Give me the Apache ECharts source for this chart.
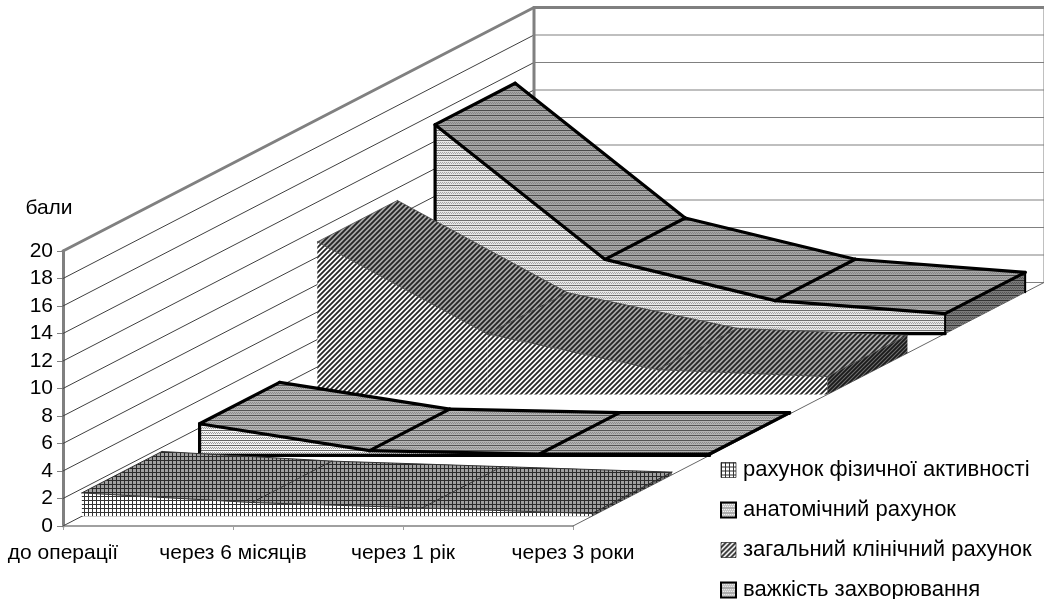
<!DOCTYPE html>
<html>
<head>
<meta charset="utf-8">
<title>бали</title>
<style>
    html, body { margin: 0; padding: 0; background: #fff; }
    #chart-box { width: 1044px; height: 599px; }
</style>
<script src="https://cdn.jsdelivr.net/npm/echarts@6/dist/echarts.min.js"></script>
</head>
<body>
<div id="chart-box"></div>
<script>
// values
const categories = ["до операції", "через 6 місяців", "через 1 рік", "через 3 роки"]
const seriesNames = ["рахунок фізичної активності", "анатомічний рахунок", "загальний клінічний рахунок", "важкість захворювання"]
const physicalValues = [1.7, 1.0, 0.6, 0.2]
const anatomicValues = [2.3, 0.35, 0.1, 0.1]
const clinicalValues = [11.1, 4.4, 1.8, 1.3]
const severityValues = [15.2, 5.4, 2.4, 1.45]
const wallTicks = [0, 2, 4, 6, 8, 10, 12, 14, 16, 18, 20]

// oblique 3d look: how far the back wall sits from the front of the floor
const DEPTH_X = 471
const DEPTH_Y = -243.5
const SLAB_START = [0.04, 0.29, 0.54, 0.79]
const SLAB_DEPTH = 0.17

function makeCanvas(w, h, bg) {
    let c = document.createElement("canvas")
    c.width = w
    c.height = h
    let ctx = c.getContext("2d")
    ctx.fillStyle = bg
    ctx.fillRect(0, 0, w, h)
    return [c, ctx]
}

function gridPattern(bg, fg) {
    let [c, ctx] = makeCanvas(4, 4, bg)
    ctx.fillStyle = fg
    ctx.fillRect(0, 0, 4, 1)
    ctx.fillRect(0, 0, 1, 4)
    return { image: c, repeat: "repeat" }
}

function linePattern(bg, dot, fg) {
    let [c, ctx] = makeCanvas(4, 5, bg)
    ctx.fillStyle = fg
    ctx.fillRect(0, 0, 4, 1)
    ctx.fillStyle = dot
    ctx.fillRect(0, 2, 1, 1)
    ctx.fillRect(2, 2, 1, 1)
    ctx.fillRect(1, 3, 1, 1)
    ctx.fillRect(3, 3, 1, 1)
    return { image: c, repeat: "repeat" }
}

function diagPattern(bg, fg, size) {
    let [c, ctx] = makeCanvas(size, size, bg)
    ctx.strokeStyle = fg
    ctx.lineWidth = 1.8
    ctx.beginPath()
    ctx.moveTo(-1, size + 1)
    ctx.lineTo(size + 1, -1)
    ctx.moveTo(-1, 1)
    ctx.lineTo(1, -1)
    ctx.moveTo(size - 1, size + 1)
    ctx.lineTo(size + 1, size - 1)
    ctx.stroke()
    return { image: c, repeat: "repeat" }
}

const frontFills = [
    gridPattern("#ffffff", "#333333"),
    linePattern("#f4f4f4", "#9a9a9a", "#666666"),
    diagPattern("#ffffff", "#262626", 5),
    linePattern("#e8e8e8", "#a4a4a4", "#707070")
]
const topFills = [
    gridPattern("#a0a0a0", "#2a2a2a"),
    linePattern("#b4b4b4", "#8a8a8a", "#555555"),
    diagPattern("#a8a8a8", "#242424", 5),
    linePattern("#a6a6a6", "#868686", "#4c4c4c")
]
const sideFills = [
    gridPattern("#6a6a6a", "#222222"),
    linePattern("#6a6a6a", "#444444", "#222222"),
    diagPattern("#707070", "#1a1a1a", 4),
    linePattern("#7a7a7a", "#555555", "#333333")
]
// the two black framed areas have heavy outlines, the others only thin ones
const edgeWidth = [1, 3.2, 0.8, 3.2]
const edgeColor = ["#333333", "#000000", "#444444", "#000000"]

function shift(p, f) {
    return [p[0] + DEPTH_X * f, p[1] + DEPTH_Y * f]
}

function poly(points, fill) {
    return { type: "polygon", shape: { points: points }, style: { fill: fill, stroke: null } }
}

function edge(a, b, width, color) {
    return { type: "line", z2: 10, shape: { x1: a[0], y1: a[1], x2: b[0], y2: b[1] }, style: { stroke: color, lineWidth: width, lineCap: "round" } }
}

function slabRenderer(index, values) {
    return function (params, api) {
        let i = api.value(0)
        if (i >= values.length - 1) {
            return { type: "group", children: [] }
        }
        let f0 = SLAB_START[index]
        let f1 = f0 + SLAB_DEPTH
        let a = shift(api.coord([i, values[i]]), f0)
        let b = shift(api.coord([i + 1, values[i + 1]]), f0)
        let a0 = shift(api.coord([i, 0]), f0)
        let b0 = shift(api.coord([i + 1, 0]), f0)
        let aBack = shift(api.coord([i, values[i]]), f1)
        let bBack = shift(api.coord([i + 1, values[i + 1]]), f1)
        let b0Back = shift(api.coord([i + 1, 0]), f1)
        let w = edgeWidth[index]
        let col = edgeColor[index]
        let children = [
            poly([a, b, b0, a0], frontFills[index]),
            poly([a, aBack, bBack, b], topFills[index])
        ]
        if (i === values.length - 2) {
            children.push(poly([b, bBack, b0Back, b0], sideFills[index]))
        }
        children.push(edge(a, b, w, col))
        children.push(edge(aBack, bBack, w, col))
        children.push(edge(b, bBack, w, col))
        if (i === 0) {
            children.push(edge(a, aBack, w, col))
            if (w > 1) {
                children.push(edge(a, a0, w, col))
            }
        }
        if (w > 1) {
            children.push(edge(a0, b0, w, col))
            if (i === values.length - 2) {
                children.push(edge(b, b0, 2, col))
                children.push(edge(bBack, b0Back, 2, col))
            }
        }
        return { type: "group", children: children }
    }
}

function wallRenderer(params, api) {
    let v = api.value(1)
    let last = categories.length - 1
    let front = api.coord([0, v])
    let corner = shift(front, 1)
    let right = shift(api.coord([last, v]), 1)
    let top = v === wallTicks[wallTicks.length - 1]
    let children = [
        edge(front, corner, top ? 3 : 1, top ? "#808080" : "#404040"),
        edge(corner, right, top ? 3 : 1.2, "#808080")
    ]
    if (top) {
        let bottom = shift(api.coord([0, 0]), 1)
        let rightBottom = shift(api.coord([last, 0]), 1)
        children.push(edge(corner, bottom, 3, "#808080"))
        children.push(edge(right, rightBottom, 1, "#808080"))
        children.push(edge(api.coord([last, 0]), rightBottom, 1, "#666666"))
    }
    return { type: "group", children: children }
}

let chart = echarts.init(document.getElementById("chart-box"))

const slabValues = [physicalValues, anatomicValues, clinicalValues, severityValues]

// back slab first so the front ones paint over it
let slabSeries = [3, 2, 1, 0].map(function (index, order) {
    return {
        type: "custom",
        name: seriesNames[index],
        z: 3 + order,
        renderItem: slabRenderer(index, slabValues[index]),
        itemStyle: { color: frontFills[index] },
        data: slabValues[index].map(function (v, i) { return [i, v] }),
        silent: true
    }
})

let option = {
    animation: false,
    backgroundColor: "#ffffff",
    textStyle: { fontFamily: "Liberation Sans", color: "#000" },
    grid: { left: 63, top: 251, width: 510, height: 275 },
    legend: {
        orient: "vertical",
        left: 720,
        top: 458,
        height: 170,
        padding: 0,
        itemWidth: 15,
        itemHeight: 15,
        itemGap: 16,
        selectedMode: false,
        textStyle: { fontSize: 22, lineHeight: 24, color: "#000", padding: [0, 0, 0, 2] },
        data: seriesNames.map(function (name, i) {
            return {
                name: name,
                icon: "rect",
                itemStyle: {
                    color: frontFills[i],
                    borderColor: "#000",
                    borderWidth: edgeWidth[i] > 1 ? 2 : 0.6
                }
            }
        })
    },
    xAxis: {
        type: "category",
        data: categories,
        boundaryGap: false,
        axisLine: { lineStyle: { color: "#a0a0a0", width: 2 } },
        axisTick: { show: true, length: 4, lineStyle: { color: "#a0a0a0" } },
        axisLabel: { interval: 0, margin: 17, fontSize: 21, color: "#000" }
    },
    yAxis: {
        type: "value",
        min: 0,
        max: 20,
        interval: 2,
        name: "бали",
        nameLocation: "end",
        nameGap: 32,
        nameTextStyle: { fontSize: 21, color: "#000", padding: [0, 28, 0, 0] },
        splitLine: { show: false },
        axisLine: { show: true, lineStyle: { color: "#808080", width: 3 } },
        axisTick: { show: true, length: 6, lineStyle: { color: "#808080" } },
        axisLabel: { margin: 10, fontSize: 21, color: "#000" }
    },
    series: [{
        type: "custom",
        name: "wall",
        z: 2,
        renderItem: wallRenderer,
        data: wallTicks.map(function (v) { return [0, v] }),
        silent: true
    }].concat(slabSeries)
}
chart.setOption(option)
</script>
</body>
</html>
